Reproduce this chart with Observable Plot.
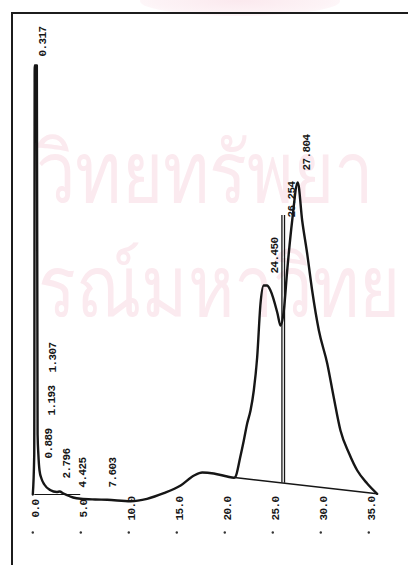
<!DOCTYPE html>
<html><head><meta charset="utf-8">
<script src="https://cdn.jsdelivr.net/npm/d3@7"></script>
<script src="https://cdn.jsdelivr.net/npm/@observablehq/plot@0.6"></script>
<style>
html,body{margin:0;padding:0;background:#fff;}
#wrap{position:relative;width:408px;height:565px;overflow:hidden;background:#fff;}
#glow{position:absolute;left:140px;top:-14px;width:200px;height:30px;border-radius:50%;background:radial-gradient(ellipse at center,#fbe9ee 0%,#fdf3f6 60%,rgba(255,255,255,0) 100%);}
.wm{position:absolute;white-space:nowrap;color:#fbeaef;font-family:"Noto Sans","DejaVu Sans",sans-serif;font-size:84px;line-height:84px;height:84px;transform:scaleX(0.84);transform-origin:left top;}
#wm1{left:36px;top:128px;}
#wm2{left:38px;top:242px;}
#frame{position:absolute;left:11px;top:12px;width:400px;height:560px;border-left:2px solid #1c1c1c;border-top:2px solid #1c1c1c;border-right:1px solid #ececec;}
#chart{position:absolute;left:0;top:0;}
</style></head><body>
<div id="wrap">
<div id="glow"></div>
<div class="wm" id="wm1">วิทยทรัพยา</div>
<div class="wm" id="wm2">รณ์มหาวิทย</div>
<div id="frame"></div>
<div id="chart"></div>
</div>
<script>
// Retention time (min) and detector signal (arbitrary units)
const traceTime = [0, 0.15, 0.2, 0.42, 0.5, 0.58, 0.7, 0.9, 1.2, 1.8, 2.5, 2.8, 3.2, 4.2, 5.0, 6.5, 7.75, 10.2, 11.9, 13.65, 15.4, 16.8, 17.65, 18.85, 20.25, 20.94, 21.1, 21.6, 21.98, 22.33, 22.68, 23.02, 23.37, 23.72, 24.05, 24.4, 24.76, 25.49, 25.8, 26.15, 26.5, 27.02, 27.6, 28.06, 28.58, 29.1, 29.8, 30.67, 31.35, 32.05, 32.95, 33.8, 34.83, 35.87];
const traceSignal = [0, 4, 42.9, 42.9, 6, 4.0, 2.4, 1.6, 1.0, 0.45, 0.25, 0.3, 0.1, -0.3, -0.43, -0.5, -0.53, -0.67, -0.43, 0.13, 0.9, 1.9, 2.2, 2.1, 1.8, 1.67, 1.75, 3.7, 5.4, 7.1, 8.4, 10.4, 13.7, 19.1, 20.9, 20.9, 20.4, 18.1, 16.9, 18.4, 22.4, 27.4, 31.2, 27.4, 24.1, 20.4, 16.4, 13.1, 9.7, 6.4, 4.1, 2.4, 1.1, 0.07];

const axisTicks = [0, 5, 10, 15, 20, 25, 30, 35];
const axisTickLabels = ["0.0", "5.0", "10.0", "15.0", "20.0", "25.0", "30.0", "35.0"];

const peakTimes = [0.317, 0.889, 1.193, 1.307, 2.796, 4.425, 7.603, 24.450, 26.254, 27.804];
const peakLabels = ["0.317", "0.889", "1.193", "1.307", "2.796", "4.425", "7.603", "24.450", "26.254", "27.804"];
const peakLabelLevel = [43.8, 3.6, 7.9, 12.2, 1.6, 0.7, 0.7, 22.1, 27.7, 32.4];

// integration baselines (time, signal)
const baselineATime = [0.2, 4.9];
const baselineASignal = [0, 0];
const baselineBTime = [21.0, 35.87];
const baselineBSignal = [1.7, 0.07];
// drop lines at the valley
const dropTimes = [25.95, 26.22];
const dropTop = 27.9;

const trace = traceTime.map((t, i) => ({t, v: traceSignal[i]}));
const baseA = baselineATime.map((t, i) => ({t, v: baselineASignal[i]}));
const baseB = baselineBTime.map((t, i) => ({t, v: baselineBSignal[i]}));
const baseBAt = t => baselineBSignal[0] + (t - baselineBTime[0]) / (baselineBTime[1] - baselineBTime[0]) * (baselineBSignal[1] - baselineBSignal[0]);
const peaks = peakTimes.map((t, i) => ({t, label: peakLabels[i], level: peakLabelLevel[i]}));
const ticks = axisTicks.map((t, i) => ({t, label: axisTickLabels[i]}));

const font = "Liberation Mono, DejaVu Sans Mono, monospace";
const ink = "#161616";

const chart = Plot.plot({
  width: 408,
  height: 565,
  marginLeft: 32.3,
  marginRight: 39.7,
  marginTop: 0,
  marginBottom: 71,
  x: {domain: [0, 35], axis: null},
  y: {domain: [0, 49.4], axis: null},
  style: {background: "transparent", overflow: "visible", letterSpacing: "-0.6px"},
  marks: [
    Plot.line(baseA, {x: "t", y: "v", stroke: ink, strokeWidth: 1}),
    Plot.line(baseB, {x: "t", y: "v", stroke: ink, strokeWidth: 1.6}),
    Plot.ruleX(dropTimes, {x: d => d, y1: d => baseBAt(d), y2: dropTop, stroke: ink, strokeWidth: 1.3}),
    Plot.line(trace, {x: "t", y: "v", stroke: ink, strokeWidth: 2.4, curve: "monotone-x", strokeLinejoin: "round"}),
    Plot.text(peaks, {x: "t", y: "level", text: "label", rotate: -90, textAnchor: "start", dx: 7,
      fontFamily: font, fontSize: 11, fontWeight: "bold", fill: ink}),
    Plot.text(ticks, {x: "t", text: "label", frameAnchor: "bottom", rotate: -90, textAnchor: "middle", dx: 6, dy: 14,
      fontFamily: font, fontSize: 11, fontWeight: "bold", fill: ink}),
    Plot.dot(ticks, {x: "t", frameAnchor: "bottom", dy: 38, r: 1.2, fill: "#333", stroke: "none"})
  ]
});
document.getElementById("chart").appendChild(chart);
</script>
</body></html>
